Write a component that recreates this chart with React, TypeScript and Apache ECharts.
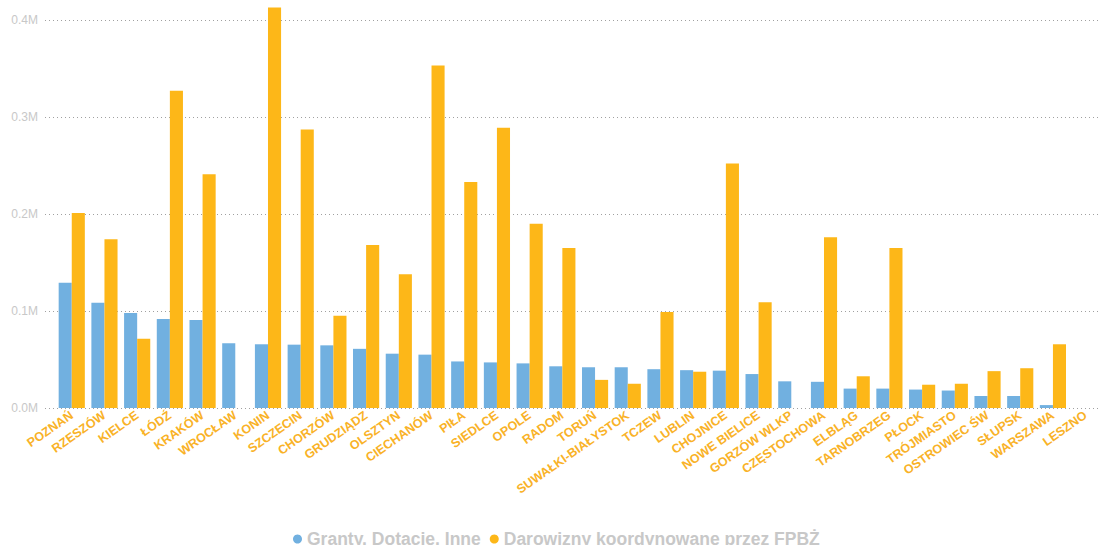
import React, { useEffect, useRef } from "react";
import * as echarts from "echarts";

const categories = [
  "POZNAŃ", "RZESZÓW", "KIELCE", "ŁÓDŹ", "KRAKÓW", "WROCŁAW", "KONIN", "SZCZECIN",
  "CHORZÓW", "GRUDZIĄDZ", "OLSZTYN", "CIECHANÓW", "PIŁA", "SIEDLCE", "OPOLE", "RADOM",
  "TORUŃ", "SUWAŁKI-BIAŁYSTOK", "TCZEW", "LUBLIN", "CHOJNICE", "NOWE BIELICE", "GORZÓW WLKP",
  "CZĘSTOCHOWA", "ELBLĄG", "TARNOBRZEG", "PŁOCK", "TRÓJMIASTO", "OSTROWIEC ŚW", "SŁUPSK",
  "WARSZAWA", "LESZNO",
];

const granty = [
  129000, 108600, 98000, 91800, 90700, 66700, 65700, 65300,
  64600, 61000, 56000, 55000, 48000, 47000, 46000, 43000,
  42000, 42000, 40000, 39000, 38500, 35000, 27500,
  27000, 20000, 20000, 19000, 18000, 12400, 12400,
  3000, 0,
];

const darowizny = [
  201000, 174000, 71500, 327000, 241000, 0, 413000, 287000,
  95000, 168000, 138000, 353000, 233000, 289000, 190000, 165000,
  29000, 25000, 99000, 37400, 252000, 109000, 0,
  176000, 32700, 165000, 24000, 25000, 38000, 41000,
  65700, 0,
];

const yTicks = [0, 100000, 200000, 300000, 400000];

const seriesNames = ["Granty, Dotacje, Inne", "Darowizny koordynowane przez FPBŻ"];

export default function App() {
  const ref = useRef<HTMLDivElement>(null);
  useEffect(() => {
    if (!ref.current) return;
    const chart = echarts.init(ref.current, undefined, { renderer: "svg" });
    const yMax = yTicks[yTicks.length - 1];
    const font = "'Liberation Sans', Arial, sans-serif";
    chart.setOption({
      animation: false,
      textStyle: { fontFamily: font },
      legend: {
        data: seriesNames,
        left: 288,
        top: 525,
        icon: "circle",
        itemWidth: 9,
        itemHeight: 9,
        itemGap: 9,
        textStyle: { color: "#c8c8c8", fontSize: 17.5, fontWeight: "bold", fontFamily: font },
      },
      grid: [
        { left: 45, right: 2, top: 20, bottom: 137 },
        { left: 55.4, right: -14.8, top: 20, bottom: 137 },
      ],
      xAxis: [
        { type: "category", gridIndex: 0, data: [""], show: false },
        {
          type: "category",
          gridIndex: 1,
          data: categories,
          axisLine: { show: false },
          axisTick: { show: false },
          axisLabel: {
            interval: 0,
            rotate: 35,
            margin: 6,
            color: "#F9B227",
            fontSize: 12.5,
            fontWeight: "bold",
            fontFamily: font,
          },
        },
      ],
      yAxis: [
        {
          type: "value",
          gridIndex: 0,
          min: 0,
          max: yMax,
          interval: 100000,
          axisLine: { show: false },
          axisTick: { show: false },
          axisLabel: {
            margin: 7,
            color: "#c8c8c8",
            fontSize: 12,
            fontFamily: font,
            formatter: (v: number) => (v / 1000000).toFixed(1) + "M",
          },
          splitLine: { lineStyle: { color: "#a0a0a0", type: [1, 3], width: 1 } },
        },
        { type: "value", gridIndex: 1, min: 0, max: yMax, show: false },
      ],
      series: [
        {
          name: seriesNames[0],
          type: "bar",
          xAxisIndex: 1,
          yAxisIndex: 1,
          data: granty,
          barGap: "0%",
          barCategoryGap: "20%",
          clip: false,
          itemStyle: { color: "#71B0E0" },
        },
        {
          name: seriesNames[1],
          type: "bar",
          xAxisIndex: 1,
          yAxisIndex: 1,
          data: darowizny,
          barGap: "0%",
          barCategoryGap: "20%",
          clip: false,
          itemStyle: { color: "#FDB718" },
        },
      ],
    });
    return () => chart.dispose();
  }, []);
  return (
    <div
      ref={ref}
      style={{ position: "fixed", left: 0, top: 0, width: 1102, height: 545, background: "#fff" }}
    />
  );
}
